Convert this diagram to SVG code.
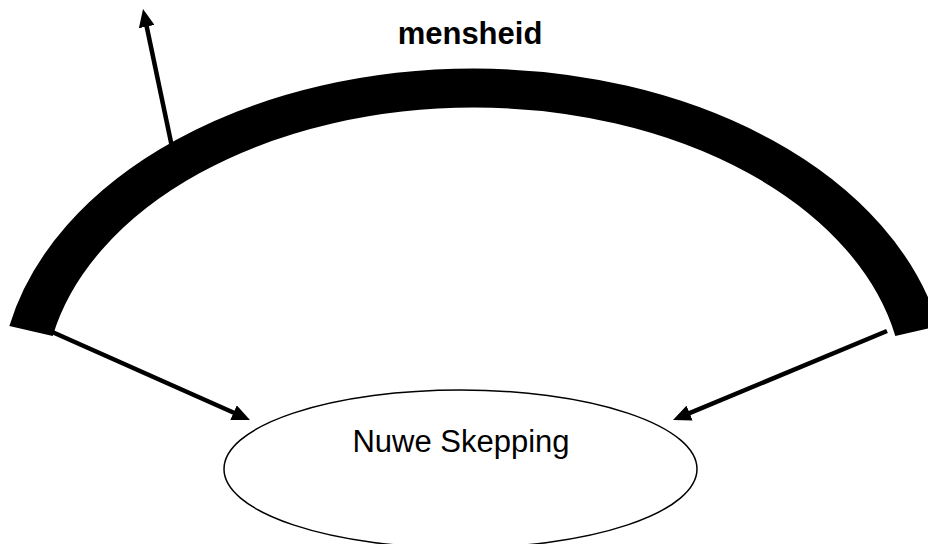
<svg xmlns="http://www.w3.org/2000/svg" width="928" height="544" viewBox="0 0 928 544">
  <style>
    .conn { stroke: #000; stroke-width: 4.5; fill: none; marker-end: url(#head); }
    .lbl { font-family: "Liberation Sans", Arial, sans-serif; font-size: 31px; fill: #000; text-anchor: middle; }
  </style>
  <defs>
    <marker id="head" viewBox="0 0 18 16" refX="4" refY="8" markerWidth="18" markerHeight="16" markerUnits="userSpaceOnUse" orient="auto">
      <path d="M0,0 L18,8 L0,16 z" fill="#000"/>
    </marker>
  </defs>
  <rect width="928" height="544" fill="#fff"/>
  <g id="connectors">
    <line class="conn" x1="172" y1="147" x2="145.9" y2="22.7"/>
    <line class="conn" x1="50" y1="331" x2="237.2" y2="414.3"/>
    <line class="conn" x1="887" y1="331" x2="685.9" y2="414.6"/>
  </g>
  <g id="mensheid">
    <g transform="matrix(1.15 0 0 1 0 0)">
      <path d="M27,331 A393,303 0 0 1 797.4,331" fill="none" stroke="#000" stroke-width="39" stroke-linecap="butt"/>
    </g>
    <text class="lbl" x="470" y="44" font-weight="bold">mensheid</text>
  </g>
  <g id="nuwe-skepping">
    <ellipse cx="460.5" cy="469" rx="236.5" ry="79" fill="#fff" stroke="#000" stroke-width="1.5"/>
    <text class="lbl" x="461" y="452">Nuwe Skepping</text>
  </g>
</svg>
